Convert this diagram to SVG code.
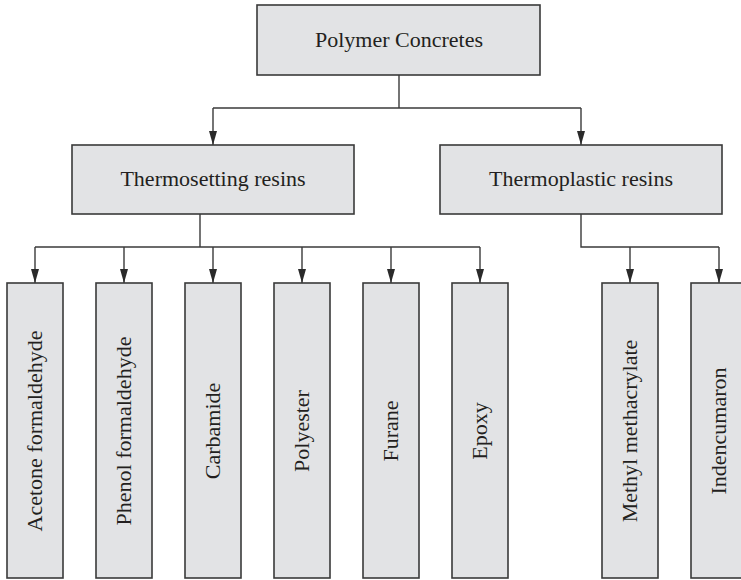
<svg xmlns="http://www.w3.org/2000/svg" width="741" height="580" viewBox="0 0 741 580">
  <style>
    .box { fill: #e2e3e5; stroke: #3a3a3a; stroke-width: 1.6; }
    .lbl { font-family: "Liberation Serif", "DejaVu Serif", serif; font-size: 22px; fill: #231f20; text-anchor: middle; }
    .conn { fill: none; stroke: #3a3a3a; stroke-width: 1.4; }
  </style>
  <defs>
    <marker id="arr" viewBox="0 0 14 8" refX="14" refY="4" markerWidth="14" markerHeight="8" markerUnits="userSpaceOnUse" orient="auto">
      <path d="M0,0 L14,4 L0,8 Z" fill="#2a2a2a"/>
    </marker>
  </defs>
  <rect width="741" height="580" fill="#ffffff"/>

  <g id="connectors">
    <path class="conn" d="M399,75 V108"/>
    <path class="conn" d="M213,108 H581"/>
    <path class="conn" d="M213,108 V145" marker-end="url(#arr)"/>
    <path class="conn" d="M581,108 V145" marker-end="url(#arr)"/>
    <path class="conn" d="M200,214 V247"/>
    <path class="conn" d="M35,247 H480"/>
    <path class="conn" d="M35,247 V283" marker-end="url(#arr)"/>
    <path class="conn" d="M124,247 V283" marker-end="url(#arr)"/>
    <path class="conn" d="M213,247 V283" marker-end="url(#arr)"/>
    <path class="conn" d="M302,247 V283" marker-end="url(#arr)"/>
    <path class="conn" d="M391,247 V283" marker-end="url(#arr)"/>
    <path class="conn" d="M480,247 V283" marker-end="url(#arr)"/>
    <path class="conn" d="M581,214 V247 H719"/>
    <path class="conn" d="M630,247 V283" marker-end="url(#arr)"/>
    <path class="conn" d="M719,247 V283" marker-end="url(#arr)"/>
  </g>

  <g id="polymer-concretes">
    <rect class="box" x="257" y="5" width="283" height="70"/>
    <text class="lbl" x="399" y="47">Polymer Concretes</text>
  </g>
  <g id="thermosetting">
    <rect class="box" x="72" y="145" width="282" height="69"/>
    <text class="lbl" x="213" y="186">Thermosetting resins</text>
  </g>
  <g id="thermoplastic">
    <rect class="box" x="440" y="145" width="282" height="69"/>
    <text class="lbl" x="581" y="186">Thermoplastic resins</text>
  </g>

  <g id="acetone">
    <rect class="box" x="7" y="283" width="56" height="295"/>
    <text class="lbl" transform="translate(35,431) rotate(-90)" y="7">Acetone formaldehyde</text>
  </g>
  <g id="phenol">
    <rect class="box" x="96" y="283" width="56" height="295"/>
    <text class="lbl" transform="translate(124,431) rotate(-90)" y="7">Phenol formaldehyde</text>
  </g>
  <g id="carbamide">
    <rect class="box" x="185" y="283" width="56" height="295"/>
    <text class="lbl" transform="translate(213,431) rotate(-90)" y="7">Carbamide</text>
  </g>
  <g id="polyester">
    <rect class="box" x="274" y="283" width="56" height="295"/>
    <text class="lbl" transform="translate(302,431) rotate(-90)" y="7">Polyester</text>
  </g>
  <g id="furane">
    <rect class="box" x="363" y="283" width="56" height="295"/>
    <text class="lbl" transform="translate(391,431) rotate(-90)" y="7">Furane</text>
  </g>
  <g id="epoxy">
    <rect class="box" x="452" y="283" width="56" height="295"/>
    <text class="lbl" transform="translate(480,431) rotate(-90)" y="7">Epoxy</text>
  </g>
  <g id="methyl-methacrylate">
    <rect class="box" x="602" y="283" width="56" height="295"/>
    <text class="lbl" transform="translate(630,431) rotate(-90)" y="7">Methyl methacrylate</text>
  </g>
  <g id="indencumaron">
    <rect class="box" x="691" y="283" width="56" height="295"/>
    <text class="lbl" transform="translate(719,431) rotate(-90)" y="7">Indencumaron</text>
  </g>
</svg>
